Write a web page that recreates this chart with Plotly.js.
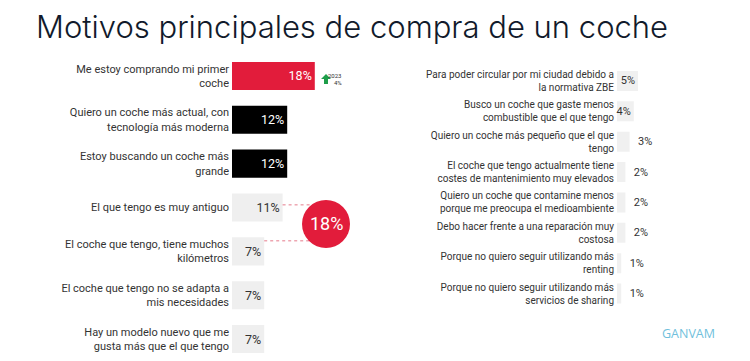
<!DOCTYPE html>
<html>
<head>
<meta charset="utf-8">
<script src="https://cdn.plot.ly/plotly-3.0.1.min.js"></script>
<style>html,body{margin:0;padding:0;background:#fff;}#chart{width:750px;height:361px;}</style>
</head>
<body>
<div id="chart"></div>
<script>
const leftLabels = [
  "Me estoy comprando mi primer<br>coche",
  "Quiero un coche más actual, con<br>tecnología más moderna",
  "Estoy buscando un coche más<br>grande",
  "El que tengo es muy antiguo",
  "El coche que tengo, tiene muchos<br>kilómetros",
  "El coche que tengo no se adapta a<br>mis necesidades",
  "Hay un modelo nuevo que me<br>gusta más que el que tengo"
];
const leftValues = [18, 12, 12, 11, 7, 7, 7];
const leftColors = ["#e21c3b", "#000000", "#000000", "#efefef", "#efefef", "#efefef", "#efefef"];
const leftTextColors = ["#ffffff", "#ffffff", "#ffffff", "#333333", "#333333", "#333333", "#333333"];

const rightLabels = [
  "Para poder circular por mi ciudad debido a<br>la normativa ZBE",
  "Busco un coche que gaste menos<br>combustible que el que tengo",
  "Quiero un coche más pequeño que el que<br>tengo",
  "El coche que tengo actualmente tiene<br>costes de mantenimiento muy elevados",
  "Quiero un coche que contamine menos<br>porque me preocupa el medioambiente",
  "Debo hacer frente a una reparación muy<br>costosa",
  "Porque no quiero seguir utilizando más<br>renting",
  "Porque no quiero seguir utilizando más<br>servicios de sharing"
];
const rightValues = [5, 4, 3, 2, 2, 2, 1, 1];

const prevYearLabel = "2023";
const prevYearValue = 4;
const titleText = "Motivos principales de compra de un coche";
const oldCarTotal = leftValues[3] + leftValues[4];

const W = 750, H = 361;
const px = v => v / W;
const py = v => 1 - v / H;

const left = {
  type: "bar", orientation: "h",
  x: leftValues, y: leftLabels,
  xaxis: "x", yaxis: "y",
  width: 0.64,
  marker: {color: leftColors},
  text: leftValues.map(v => v + "%"),
  textposition: "inside",
  insidetextanchor: "end",
  constraintext: "none",
  textangle: 0,
  textfont: {family: "Roboto", size: 12.5, color: leftTextColors},
  cliponaxis: false,
  hoverinfo: "skip"
};
const rightPos = rightValues.map(v => v >= 4 ? "inside" : "outside");
const right = {
  type: "bar", orientation: "h",
  x: rightValues, y: rightLabels,
  xaxis: "x2", yaxis: "y2",
  width: 0.66,
  marker: {color: "#f0f0f0"},
  text: rightValues.map((v, i) => (rightPos[i] === "outside" ? "\u00a0\u00a0" : "") + v + "%"),
  textposition: rightPos,
  insidetextanchor: "end",
  constraintext: "none",
  textangle: 0,
  textfont: {family: "Roboto", size: 11, color: "#333333"},
  cliponaxis: false,
  hoverinfo: "skip"
};

const cx = 326, cy = 224, r = 24;
const layout = {
  width: W, height: H,
  margin: {l: 0, r: 0, t: 0, b: 0},
  paper_bgcolor: "#ffffff", plot_bgcolor: "rgba(0,0,0,0)",
  showlegend: false,
  font: {family: "Roboto", color: "#333333"},
  title: {
    text: titleText,
    x: px(36), xanchor: "left", xref: "paper",
    y: py(27), yanchor: "middle", yref: "paper",
    font: {family: "Inter", size: 31, color: "#111a2b", weight: 300}
  },
  xaxis: {domain: [px(232), px(370)], range: [0, 30], visible: false, fixedrange: true},
  yaxis: {domain: [0, py(54)], type: "category", range: [6.5, -0.5],
          showgrid: false, zeroline: false, showline: false, ticks: "",
          tickfont: {family: "Roboto", size: 11, color: "#333333"}, anchor: "x", ticklabelstandoff: 2},
  xaxis2: {domain: [px(617), px(659)], range: [0, 10], visible: false, fixedrange: true, anchor: "y2"},
  yaxis2: {domain: [py(308.7), py(65.8)], type: "category", range: [7.5, -0.5], anchor: "x2",
           showgrid: false, zeroline: false, showline: false, ticks: "",
           tickfont: {family: "Roboto", size: 10, color: "#333333"}, ticklabelstandoff: 2},
  shapes: [
    {type: "line", xref: "x", yref: "y", x0: leftValues[3], x1: (cx - 232) / 4.6, y0: 2.94, y1: 2.94,
     line: {color: "#e57b8b", width: 1, dash: "dot"}},
    {type: "line", xref: "x", yref: "y", x0: leftValues[4], x1: (cx - 232) / 4.6, y0: 3.76, y1: 3.76,
     line: {color: "#e57b8b", width: 1, dash: "dot"}},
    {type: "circle", xref: "paper", yref: "paper", xsizemode: "pixel", ysizemode: "pixel",
     xanchor: px(cx), yanchor: py(cy), x0: -r, x1: r, y0: -r, y1: r,
     fillcolor: "#e21c3b", line: {width: 0}},
    {type: "path", xref: "paper", yref: "paper", xsizemode: "pixel", ysizemode: "pixel",
     xanchor: px(326), yanchor: py(79),
     path: "M -5 0 L 0 5 L 5 0 L 2 0 L 2 -5 L -2 -5 L -2 0 Z",
     fillcolor: "#1e9e4a", line: {width: 0}}
  ],
  annotations: [
    {xref: "paper", yref: "paper", x: px(cx), y: py(cy), text: oldCarTotal + "%", showarrow: false,
     xanchor: "center", yanchor: "middle", font: {family: "Roboto", size: 18, color: "#ffffff"}},
    {xref: "paper", yref: "paper", x: px(344), y: py(75), text: prevYearLabel, showarrow: false,
     xanchor: "right", yanchor: "middle", font: {family: "Roboto", size: 6, color: "#333333"}},
    {xref: "paper", yref: "paper", x: px(344), y: py(82.5), text: prevYearValue + "%", showarrow: false,
     xanchor: "right", yanchor: "middle", font: {family: "Roboto", size: 6, color: "#333333"}},
    {xref: "paper", yref: "paper", x: px(688), y: py(333), text: "GANVAM", showarrow: false,
     xanchor: "center", yanchor: "middle", font: {family: "Open Sans", size: 12.5, color: "#6fbfdc"}}
  ]
};

Plotly.newPlot("chart", [left, right], layout, {displayModeBar: false, staticPlot: true});
</script>
</body>
</html>
